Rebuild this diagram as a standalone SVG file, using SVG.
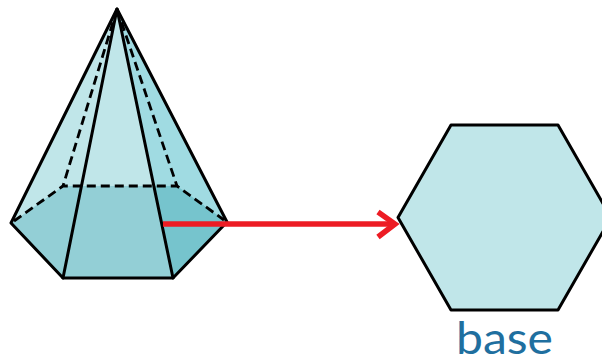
<svg xmlns="http://www.w3.org/2000/svg" width="602" height="364" viewBox="0 0 602 364">
<style>
.e{fill:none;stroke:#000;stroke-width:3;stroke-linejoin:round;stroke-linecap:round}
.d{fill:none;stroke:#000;stroke-width:2.800;stroke-dasharray:9 5}
.r{fill:none;stroke:#ed1c24;stroke-width:5.500}
</style>
<rect width="602" height="364" fill="#fff"/>
<g id="pyramid">
<polygon points="117,9 11,223 63,186 177,186" fill="#c0e6e9"/>
<polygon points="117,9 227,222 177,186 63,186" fill="#c0e6e9"/>
<polygon points="117,9 227,222 177,186 155,186" fill="#a0dbe2"/>
<polygon points="11,223 63,186 177,186 227,222 173,278 63,278" fill="#93cfd6"/>
<polygon points="154,186 177,186 227,222 173,278" fill="#76c4cd"/>
<path class="d" d="M117,9L63,186"/>
<path class="d" d="M117,9L177,186"/>
<path class="d" d="M14,221L63,186H177L224,220"/>
<path class="e" d="M117,9L11,223L63,278H173L227,222Z"/>
<path class="e" d="M63,278L117,9L173,278"/>
</g>
<g id="hexagon">
<polygon points="451,125 558,125 611,217.500 558,310 451,310 398,217.500" fill="#c0e6e9" stroke="#000" stroke-width="3" stroke-linejoin="round"/>
</g>
<g id="connectors">
<path class="r" d="M163,224H393"/>
<path class="r" d="M378,212L395,224L378,237"/>
</g>
<text x="456" y="354" font-family="Lato,sans-serif" font-size="44" fill="#1f6f9f" textLength="97" lengthAdjust="spacingAndGlyphs">base</text>
</svg>
